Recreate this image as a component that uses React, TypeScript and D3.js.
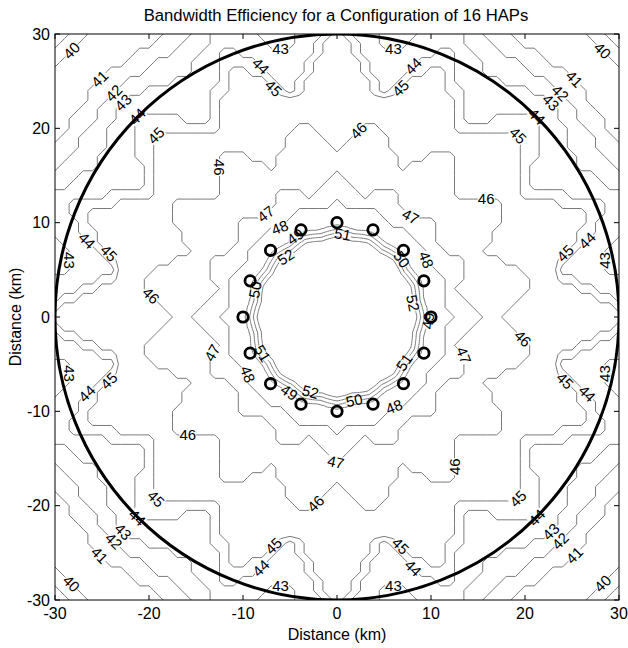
import React from 'react';
import * as d3 from 'd3';

const titleText = 'Bandwidth Efficiency for a Configuration of 16 HAPs';
const xLabelText = 'Distance (km)';
const yLabelText = 'Distance (km)';
const xTicks = [-30, -20, -10, 0, 10, 20, 30];
const yTicks = [-30, -20, -10, 0, 10, 20, 30];

// HAP ground positions (km)
const hapX = [10, 9.24, 7.07, 3.83, 0, -3.83, -7.07, -9.24, -10, -9.24, -7.07, -3.83, 0, 3.83, 7.07, 9.24];
const hapY = [0, 3.83, 7.07, 9.24, 10, 9.24, 7.07, 3.83, 0, -3.83, -7.07, -9.24, -10, -9.24, -7.07, -3.83];
const coverageRadiusKm = 30;

// Contour levels and the radius (km) at which each level is read in four directions
const levels = [39, 40, 41, 42, 43, 44, 45, 46, 47, 48, 49, 50, 51, 52];
const radiusAxisHap = [45, 43, 40, 37.5, 35, 32.5, 30.4, 17.0, 15.0, 12.0, 9.7, 9.3, 8.9, 8.5];
const radiusAxisBetween = [42, 40, 36, 32, 28, 24.0, 23.0, 21.5, 12.8, 11.2, 9.4, 9.0, 8.6, 8.2];
const radiusDiagHap = [41.7, 40.2, 35.5, 33.5, 32, 30, 27.5, 17.0, 15.0, 12.0, 9.7, 9.3, 8.9, 8.5];
const radiusDiagBetween = [41, 39.5, 35, 33, 30.5, 24.5, 23.0, 21.5, 12.8, 11.2, 9.4, 9.0, 8.6, 8.2];

const outerLevels = levels.filter((l) => l <= 48);
const innerLevels = levels.filter((l) => l >= 49);

type Pt = [number, number];

function levelRadii(theta: number): number[] {
  const deg = (theta * 180) / Math.PI;
  const t = ((deg % 22.5) + 22.5) % 22.5;
  const s = 1 - Math.min(t, 22.5 - t) / 11.25;
  const q = Math.cos(2 * theta) ** 2;
  return levels.map((_, i) => {
    const hap = radiusDiagHap[i] + (radiusAxisHap[i] - radiusDiagHap[i]) * q;
    const btw = radiusDiagBetween[i] + (radiusAxisBetween[i] - radiusDiagBetween[i]) * q;
    return btw + (hap - btw) * s;
  });
}

function efficiency(x: number, y: number): number {
  const r = Math.hypot(x, y);
  const R = levelRadii(Math.atan2(y, x));
  const n = levels.length;
  if (r >= R[0]) return levels[0] - (r - R[0]) / 1.5;
  if (r <= R[n - 1]) return Math.min(levels[n - 1] + (R[n - 1] - r) / 0.4, 54);
  for (let i = 0; i < n - 1; i++) {
    if (r <= R[i] && r >= R[i + 1]) return levels[i] + (R[i] - r) / (R[i] - R[i + 1]);
  }
  return levels[n - 1];
}

const PL = 55, PR = 619, PT = 34, PB = 600;
const xs = d3.scaleLinear().domain([-30, 30]).range([PL, PR]);
const ys = d3.scaleLinear().domain([-30, 30]).range([PB, PT]);

interface Line { level: number; pts: Pt[]; }
interface Label { level: number; x: number; y: number; angle: number; }

function buildOuter(): Line[] {
  const n = 61;
  const vals: number[] = new Array(n * n);
  for (let j = 0; j < n; j++) {
    for (let i = 0; i < n; i++) {
      const v = efficiency(-30 + i, 30 - j);
      vals[j * n + i] = Math.min(Math.floor(v), 49) + 0.5;
    }
  }
  const cs = d3.contours().size([n, n]).thresholds(outerLevels)(vals);
  const lines: Line[] = [];
  cs.forEach((c) => {
    c.coordinates.forEach((poly) =>
      poly.forEach((ring) => {
        lines.push({
          level: c.value,
          pts: ring.map((p) => [xs(-30 + (p[0] - 0.5)), ys(30 - (p[1] - 0.5))] as Pt),
        });
      })
    );
  });
  return lines;
}

function buildInner(): Line[] {
  const n = 121, step = 0.2, start = -12;
  const vals: number[] = new Array(n * n);
  for (let j = 0; j < n; j++) {
    for (let i = 0; i < n; i++) {
      vals[j * n + i] = efficiency(start + i * step, -start - j * step);
    }
  }
  const cs = d3.contours().size([n, n]).thresholds(innerLevels)(vals);
  const lines: Line[] = [];
  cs.forEach((c) => {
    c.coordinates.forEach((poly) =>
      poly.forEach((ring) => {
        lines.push({
          level: c.value,
          pts: ring.map((p) => [xs(start + (p[0] - 0.5) * step), ys(-start - (p[1] - 0.5) * step)] as Pt),
        });
      })
    );
  });
  return lines;
}

function splitInside(ring: Pt[], inside: (p: Pt) => boolean): { pts: Pt[]; closed: boolean }[] {
  const flags = ring.map(inside);
  if (flags.every((f) => f)) return [{ pts: ring, closed: true }];
  const k = flags.indexOf(false);
  const rot = ring.slice(k).concat(ring.slice(0, k));
  const rf = rot.map(inside);
  const out: { pts: Pt[]; closed: boolean }[] = [];
  let cur: Pt[] = [];
  for (let i = 0; i < rot.length; i++) {
    if (rf[i]) cur.push(rot[i]);
    else {
      if (cur.length > 1) out.push({ pts: cur, closed: false });
      cur = [];
    }
  }
  if (cur.length > 1) out.push({ pts: cur, closed: false });
  return out;
}

function pointAt(pts: Pt[], cum: number[], d: number): Pt {
  const total = cum[cum.length - 1];
  const dd = Math.max(0, Math.min(total, d));
  let i = d3.bisectRight(cum, dd) - 1;
  if (i >= pts.length - 1) i = pts.length - 2;
  if (i < 0) i = 0;
  const seg = cum[i + 1] - cum[i];
  const f = seg > 0 ? (dd - cum[i]) / seg : 0;
  return [pts[i][0] + (pts[i + 1][0] - pts[i][0]) * f, pts[i][1] + (pts[i + 1][1] - pts[i][1]) * f];
}

function placeLabels(lines: Line[], spacing: number, margin: number): Label[] {
  const labels: Label[] = [];
  const inside = (p: Pt) => p[0] > PL + margin && p[0] < PR - margin && p[1] > PT + margin && p[1] < PB - margin;
  lines.forEach((ln) => {
    const li = levels.indexOf(ln.level);
    splitInside(ln.pts, inside).forEach((piece) => {
      const pts = piece.pts;
      const cum = [0];
      for (let i = 1; i < pts.length; i++) cum.push(cum[i - 1] + Math.hypot(pts[i][0] - pts[i - 1][0], pts[i][1] - pts[i - 1][1]));
      const len = cum[cum.length - 1];
      if (len < 12) return;
      const nLab = Math.max(1, Math.round(len / spacing));
      const phase = piece.closed ? ((li * 0.37) % 1) : 0.5;
      for (let k = 0; k < nLab; k++) {
        const d = ((k + phase) / nLab) * len;
        const p = pointAt(pts, cum, d);
        const a = pointAt(pts, cum, d - 9);
        const b = pointAt(pts, cum, d + 9);
        let ang = (Math.atan2(b[1] - a[1], b[0] - a[0]) * 180) / Math.PI;
        if (ang > 90) ang -= 180;
        if (ang < -90) ang += 180;
        labels.push({ level: ln.level, x: p[0], y: p[1], angle: ang });
      }
    });
  });
  return labels;
}

const lineGen = d3.line<Pt>().x((d) => d[0]).y((d) => d[1]);

export default function App() {
  const outer = buildOuter();
  const inner = buildInner();
  const allLines = outer.concat(inner);
  const labels = placeLabels(outer, 200, 8).concat(placeLabels(inner, 190, 8));
  const font = "'Liberation Sans', Arial, Helvetica, sans-serif";
  const labW = 17, labH = 12;

  return (
    <svg width={628} height={648} style={{ position: 'fixed', left: 0, top: 0, background: '#fff' }} fontFamily={font}>
      <rect x={0} y={0} width={628} height={648} fill="#fff" />
      <defs>
        <clipPath id="plotClip">
          <rect x={PL} y={PT} width={PR - PL} height={PB - PT} />
        </clipPath>
        {levels.map((L) => (
          <mask id={`lm${L}`} key={L} maskUnits="userSpaceOnUse" x={0} y={0} width={628} height={648}>
            <rect x={0} y={0} width={628} height={648} fill="white" />
            {labels
              .filter((l) => l.level === L)
              .map((l, i) => (
                <rect
                  key={i}
                  x={-labW / 2}
                  y={-labH / 2}
                  width={labW}
                  height={labH}
                  fill="black"
                  transform={`translate(${l.x},${l.y}) rotate(${l.angle})`}
                />
              ))}
          </mask>
        ))}
      </defs>

      <g clipPath="url(#plotClip)">
        {levels.map((L) => (
          <g key={L} mask={`url(#lm${L})`}>
            {allLines
              .filter((ln) => ln.level === L)
              .map((ln, i) => (
                <path key={i} d={(lineGen(ln.pts) || '') + 'Z'} fill="none" stroke="#7a7a7a" strokeWidth={1} />
              ))}
          </g>
        ))}
        {labels.map((l, i) => (
          <text
            key={i}
            x={0}
            y={0}
            transform={`translate(${l.x},${l.y}) rotate(${l.angle})`}
            textAnchor="middle"
            dy="0.36em"
            fontSize={15}
            fill="#000"
          >
            {l.level}
          </text>
        ))}
        <ellipse
          cx={xs(0)}
          cy={ys(0)}
          rx={xs(coverageRadiusKm) - xs(0)}
          ry={ys(0) - ys(coverageRadiusKm)}
          fill="none"
          stroke="#000"
          strokeWidth={3}
        />
        {hapX.map((hx, i) => (
          <circle key={i} cx={xs(hx)} cy={ys(hapY[i])} r={5.2} fill="none" stroke="#000" strokeWidth={2.8} />
        ))}
      </g>

      <rect x={PL} y={PT} width={PR - PL} height={PB - PT} fill="none" stroke="#000" strokeWidth={1} />
      {xTicks.map((t) => (
        <g key={'x' + t}>
          <line x1={xs(t)} x2={xs(t)} y1={PB} y2={PB - 5} stroke="#000" />
          <line x1={xs(t)} x2={xs(t)} y1={PT} y2={PT + 5} stroke="#000" />
          <text x={xs(t)} y={619} textAnchor="middle" fontSize={16} fill="#000">
            {t}
          </text>
        </g>
      ))}
      {yTicks.map((t) => (
        <g key={'y' + t}>
          <line x1={PL} x2={PL + 5} y1={ys(t)} y2={ys(t)} stroke="#000" />
          <line x1={PR} x2={PR - 5} y1={ys(t)} y2={ys(t)} stroke="#000" />
          <text x={50} y={ys(t)} dy="0.36em" textAnchor="end" fontSize={16} fill="#000">
            {t}
          </text>
        </g>
      ))}
      <text x={336} y={21} textAnchor="middle" fontSize={16.7} fill="#000">
        {titleText}
      </text>
      <text x={337} y={640} textAnchor="middle" fontSize={16} fill="#000">
        {xLabelText}
      </text>
      <text transform={`translate(21,317) rotate(-90)`} textAnchor="middle" fontSize={16} fill="#000">
        {yLabelText}
      </text>
    </svg>
  );
}
